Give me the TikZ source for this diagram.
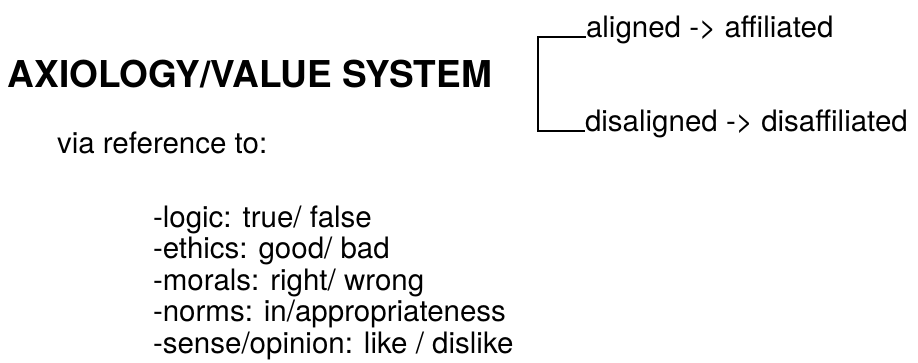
\documentclass[tikz,border=0pt]{standalone}
\usepackage{fontspec}
\setmainfont{TeX Gyre Heros}
\begin{document}
\begin{tikzpicture}[x=1pt,y=-1pt,
  txt/.style={inner sep=0pt,outer sep=0pt,anchor=base west,font=\fontsize{29.5}{29.5}\selectfont},
  ttl/.style={inner sep=0pt,outer sep=0pt,anchor=base west,font=\fontsize{37}{37}\selectfont\bfseries},
  brk/.style={line width=1.8pt,black}]
\useasboundingbox (0,0) rectangle (918,362);
\node[ttl] (title) at (8,87) {AXIOLOGY/VALUE SYSTEM};
\node[txt] (via) at (57,153) {via reference to:};
\node[txt] (l1) at (153,227) {-logic: true/ false};
\node[txt] (l2) at (153,258.5) {-ethics: good/ bad};
\node[txt] (l3) at (153,290) {-morals: right/ wrong};
\node[txt] (l4) at (153,321.5) {-norms: in/appropriateness};
\node[txt] (l5) at (153,353) {-sense/opinion: like / dislike};
\node[txt] (al) at (586,37) {aligned -> affiliated};
\node[txt] (dis) at (585,131) {disaligned -> disaffiliated};
\coordinate (c1) at (538,37);
\coordinate (c2) at (538,131);
\draw[brk] (al.base west) -- (c1) -- (c2) -- (dis.base west);
\end{tikzpicture}
\end{document}
